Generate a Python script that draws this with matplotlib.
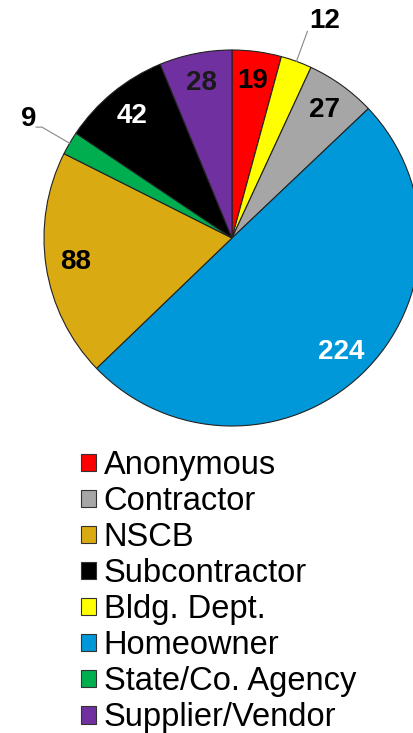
import numpy as np
import matplotlib.pyplot as plt

plt.rcParams['font.family'] = ['Liberation Sans', 'DejaVu Sans']

# slices, clockwise from 12 o'clock
slice_names = ['Anonymous', 'Bldg. Dept.', 'Contractor', 'Homeowner', 'NSCB',
               'State/Co. Agency', 'Subcontractor', 'Supplier/Vendor']
slice_values = [19, 12, 27, 224, 88, 9, 42, 28]
slice_colors = ['#FF0000', '#FFFF00', '#A6A6A6', '#0098D8', '#DAAA12',
                '#00AE50', '#000000', '#7030A0']
label_colors = ['black', 'black', 'black', 'white', 'black', 'black', 'white', '#1a1a1a']
outside = ['Bldg. Dept.', 'State/Co. Agency']

# legend order as shown
legend_order = ['Anonymous', 'Contractor', 'NSCB', 'Subcontractor', 'Bldg. Dept.',
                'Homeowner', 'State/Co. Agency', 'Supplier/Vendor']

W, H = 413, 733
fig = plt.figure(figsize=(W / 100, H / 100), dpi=100)
ax = fig.add_axes([0, 0, 1, 1])

cx, cy, R = 232, H - 238, 188
wedges, _ = ax.pie(slice_values, colors=slice_colors, startangle=90, counterclock=False,
                   center=(cx, cy), radius=R,
                   wedgeprops=dict(edgecolor='#222222', linewidth=0.8))
ax.set_xlim(0, W)
ax.set_ylim(0, H)
ax.set_aspect('equal')
ax.axis('off')

for w, name, val, lc in zip(wedges, slice_names, slice_values, label_colors):
    mid = np.deg2rad((w.theta1 + w.theta2) / 2)
    dx, dy = np.cos(mid), np.sin(mid)
    if name in outside:
        x0, y0 = cx + R * dx, cy + R * dy
        x1, y1 = cx + 1.17 * R * dx, cy + 1.17 * R * dy
        if dx > 0:
            ax.plot([x0, x1], [y0, y1], color='#888888', lw=0.8)
            ax.text(x1 + 2, y1 + 10, str(val), ha='left', va='center',
                    fontsize=20, fontweight='bold')
        else:
            x2 = x1 - 6
            ax.plot([x0, x1, x2], [y0, y1, y1], color='#888888', lw=0.8)
            ax.text(x2, y1 + 8, str(val), ha='right', va='center',
                    fontsize=20, fontweight='bold')
    else:
        r = 0.84 * R
        ax.text(cx + r * dx, cy + r * dy, str(val), ha='center', va='center',
                fontsize=20, fontweight='bold', color=lc)

handles = [wedges[slice_names.index(n)] for n in legend_order]
leg = ax.legend(handles, legend_order, loc='upper left', bbox_to_anchor=(81 / W, 1 - 450 / H),
                frameon=False, fontsize=23.5, handlelength=0.45, handleheight=0.45,
                handletextpad=0.25, labelspacing=0.155, borderaxespad=0, borderpad=0)
for h in leg.legend_handles:
    h.set_edgecolor('#333333')
    h.set_linewidth(0.8)

fig.savefig('out.png', dpi=100)
